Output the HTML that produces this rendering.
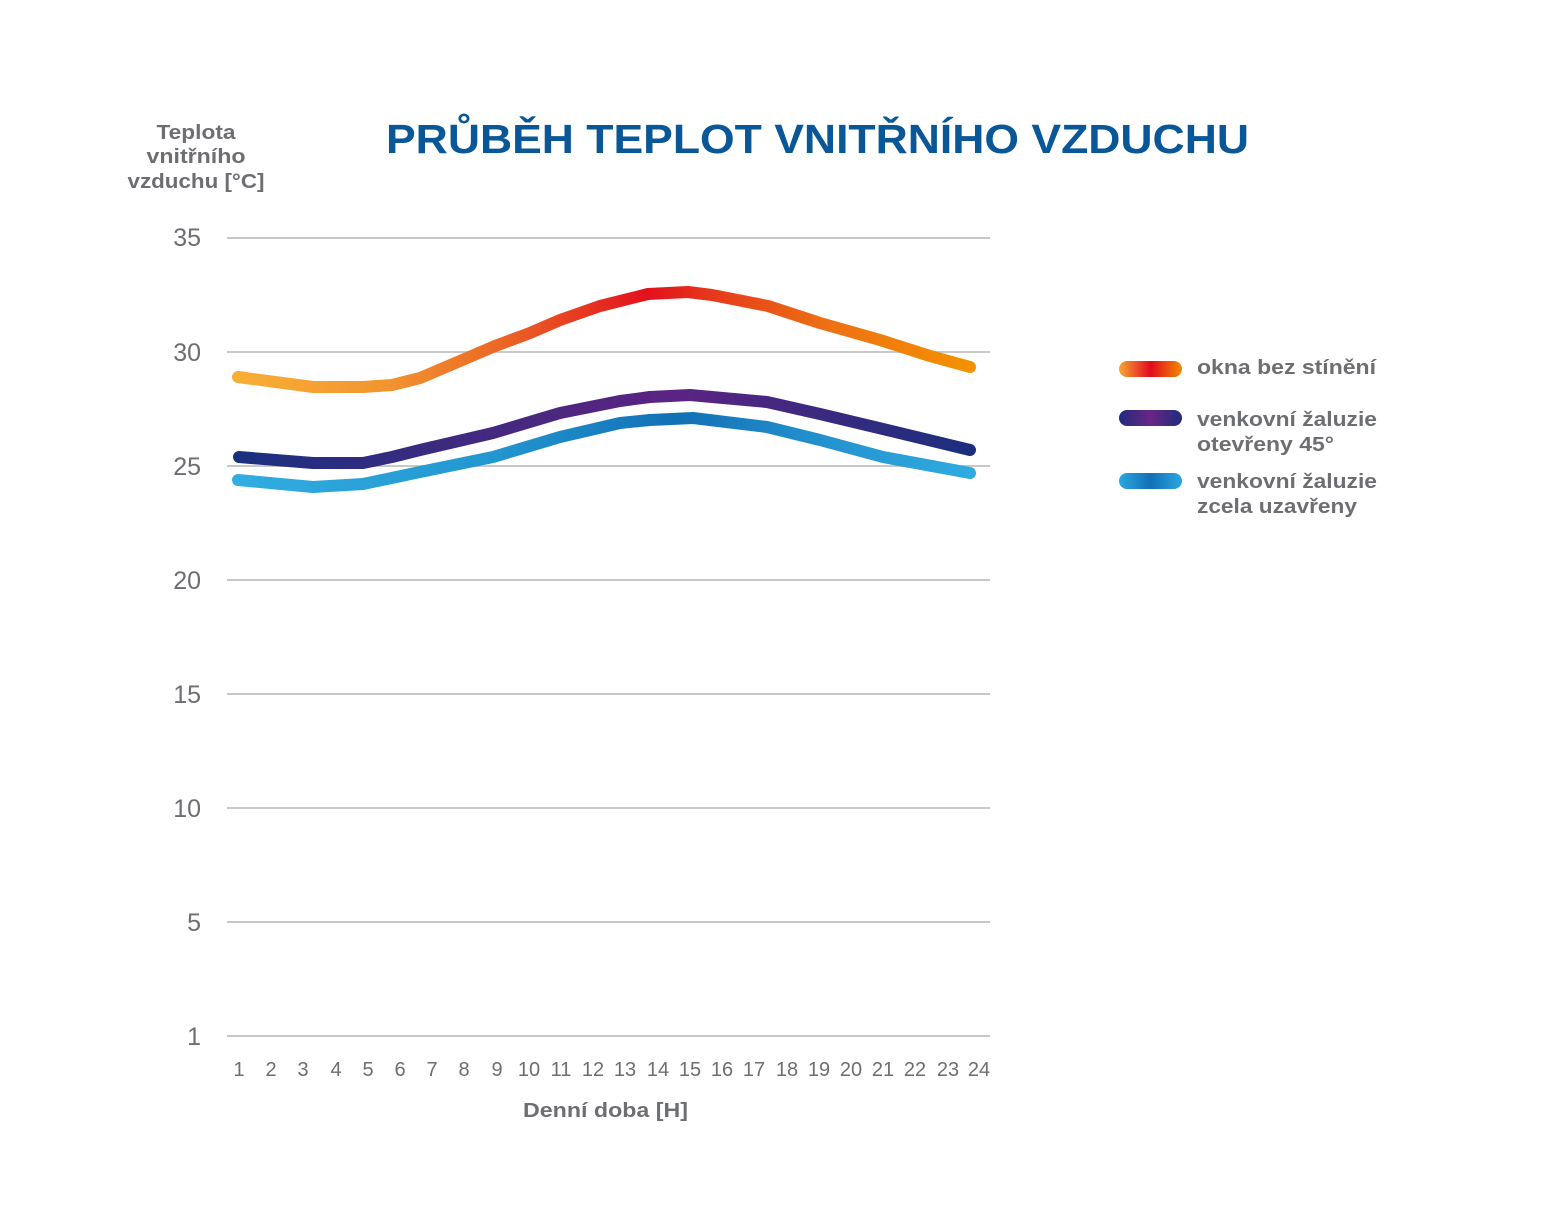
<!DOCTYPE html>
<html>
<head>
<meta charset="utf-8">
<style>
  html, body { margin: 0; padding: 0; background: #ffffff; }
  svg { display: block; }
  text { font-family: "Liberation Sans", sans-serif; }
</style>
</head>
<body>
<svg width="1550" height="1210" viewBox="0 0 1550 1210" xmlns="http://www.w3.org/2000/svg">
  <defs>
    <linearGradient id="gOr" gradientUnits="userSpaceOnUse" x1="238" y1="0" x2="970" y2="0">
      <stop offset="0" stop-color="#f7ae36"/>
      <stop offset="0.2" stop-color="#f29530"/>
      <stop offset="0.35" stop-color="#ec6a25"/>
      <stop offset="0.5" stop-color="#e52b1f"/>
      <stop offset="0.56" stop-color="#e3101d"/>
      <stop offset="0.65" stop-color="#e63a1b"/>
      <stop offset="0.8" stop-color="#ee6f13"/>
      <stop offset="1" stop-color="#f39200"/>
    </linearGradient>
    <linearGradient id="gPu" gradientUnits="userSpaceOnUse" x1="238" y1="0" x2="970" y2="0">
      <stop offset="0" stop-color="#1b2f80"/>
      <stop offset="0.35" stop-color="#44297f"/>
      <stop offset="0.6" stop-color="#5c2383"/>
      <stop offset="0.8" stop-color="#3a2a80"/>
      <stop offset="1" stop-color="#1b2e7e"/>
    </linearGradient>
    <linearGradient id="gBl" gradientUnits="userSpaceOnUse" x1="238" y1="0" x2="970" y2="0">
      <stop offset="0" stop-color="#31ade1"/>
      <stop offset="0.35" stop-color="#2296d0"/>
      <stop offset="0.6" stop-color="#1270b5"/>
      <stop offset="0.8" stop-color="#2492cf"/>
      <stop offset="1" stop-color="#2fabe0"/>
    </linearGradient>
    <linearGradient id="lOr" x1="0" y1="0" x2="1" y2="0">
      <stop offset="0" stop-color="#f6a734"/>
      <stop offset="0.5" stop-color="#e30a1e"/>
      <stop offset="1" stop-color="#f18a00"/>
    </linearGradient>
    <linearGradient id="lPu" x1="0" y1="0" x2="1" y2="0">
      <stop offset="0" stop-color="#1f2c7d"/>
      <stop offset="0.5" stop-color="#6a2584"/>
      <stop offset="1" stop-color="#1f2c7d"/>
    </linearGradient>
    <linearGradient id="lBl" x1="0" y1="0" x2="1" y2="0">
      <stop offset="0" stop-color="#2ba7df"/>
      <stop offset="0.5" stop-color="#1270b6"/>
      <stop offset="1" stop-color="#2ba7df"/>
    </linearGradient>
  </defs>

  <!-- Title -->
  <text x="386" y="153" font-size="41" font-weight="bold" fill="#0a5797" textLength="863" lengthAdjust="spacingAndGlyphs">PRŮBĚH TEPLOT VNITŘNÍHO VZDUCHU</text>

  <!-- Y axis title -->
  <g fill="#6d6e71" font-size="20" font-weight="bold" text-anchor="middle">
    <text x="196" y="139" textLength="79" lengthAdjust="spacingAndGlyphs">Teplota</text>
    <text x="196" y="163" textLength="99" lengthAdjust="spacingAndGlyphs">vnitřního</text>
    <text x="196" y="188" textLength="137" lengthAdjust="spacingAndGlyphs">vzduchu [°C]</text>
  </g>

  <!-- Gridlines -->
  <g stroke="#c8c8c8" stroke-width="2">
    <line x1="227" y1="238" x2="990" y2="238"/>
    <line x1="227" y1="352" x2="990" y2="352"/>
    <line x1="227" y1="466" x2="990" y2="466"/>
    <line x1="227" y1="580" x2="990" y2="580"/>
    <line x1="227" y1="694" x2="990" y2="694"/>
    <line x1="227" y1="808" x2="990" y2="808"/>
    <line x1="227" y1="922" x2="990" y2="922"/>
    <line x1="227" y1="1036" x2="990" y2="1036"/>
  </g>

  <!-- Y tick labels -->
  <g fill="#6d6e71" font-size="25" text-anchor="end">
    <text x="201" y="246">35</text>
    <text x="201" y="361">30</text>
    <text x="201" y="475">25</text>
    <text x="201" y="589">20</text>
    <text x="201" y="703">15</text>
    <text x="201" y="817">10</text>
    <text x="201" y="931">5</text>
    <text x="201" y="1045">1</text>
  </g>

  <!-- X tick labels -->
  <g fill="#6d6e71" font-size="20" text-anchor="middle">
    <text x="239" y="1076">1</text>
    <text x="271" y="1076">2</text>
    <text x="303" y="1076">3</text>
    <text x="336" y="1076">4</text>
    <text x="368" y="1076">5</text>
    <text x="400" y="1076">6</text>
    <text x="432" y="1076">7</text>
    <text x="464" y="1076">8</text>
    <text x="497" y="1076">9</text>
    <text x="529" y="1076">10</text>
    <text x="561" y="1076">11</text>
    <text x="593" y="1076">12</text>
    <text x="625" y="1076">13</text>
    <text x="658" y="1076">14</text>
    <text x="690" y="1076">15</text>
    <text x="722" y="1076">16</text>
    <text x="754" y="1076">17</text>
    <text x="787" y="1076">18</text>
    <text x="819" y="1076">19</text>
    <text x="851" y="1076">20</text>
    <text x="883" y="1076">21</text>
    <text x="915" y="1076">22</text>
    <text x="948" y="1076">23</text>
    <text x="979" y="1076">24</text>
  </g>

  <!-- X axis title -->
  <text x="605.5" y="1117" font-size="20" font-weight="bold" fill="#6d6e71" text-anchor="middle" textLength="165" lengthAdjust="spacingAndGlyphs">Denní doba [H]</text>

  <!-- Series -->
  <g fill="none" stroke-width="12" stroke-linecap="round" stroke-linejoin="round">
    <polyline stroke="url(#gBl)" points="238,480 313,487 363,484 420,472 493,457 560,437 620,423 650,420 693,418 767,427 820,440 883,457 970,473"/>
    <polyline stroke="url(#gPu)" points="239,457 313,463 363,463 392,457 420,450 493,433 560,413 620,401 650,397 690,395 767,402 820,414 883,429 970,450"/>
    <polyline stroke="url(#gOr)" points="238,377 313,387 363,387 392,385 420,378 460,361 495,346 530,333 560,320 600,306 648,294 688,292 712,295 768,306 820,323 880,340 930,356 970,367"/>
  </g>

  <!-- Legend -->
  <rect x="1119" y="361" width="63" height="16" rx="8" fill="url(#lOr)"/>
  <rect x="1119" y="410" width="63" height="16" rx="8" fill="url(#lPu)"/>
  <rect x="1119" y="473" width="63" height="16" rx="8" fill="url(#lBl)"/>
  <g fill="#6d6e71" font-size="20" font-weight="bold">
    <text x="1197" y="374" textLength="179" lengthAdjust="spacingAndGlyphs">okna bez stínění</text>
    <text x="1197" y="426" textLength="180" lengthAdjust="spacingAndGlyphs">venkovní žaluzie</text>
    <text x="1197" y="451" textLength="137" lengthAdjust="spacingAndGlyphs">otevřeny 45°</text>
    <text x="1197" y="488" textLength="180" lengthAdjust="spacingAndGlyphs">venkovní žaluzie</text>
    <text x="1197" y="513" textLength="160" lengthAdjust="spacingAndGlyphs">zcela uzavřeny</text>
  </g>
</svg>
</body>
</html>
